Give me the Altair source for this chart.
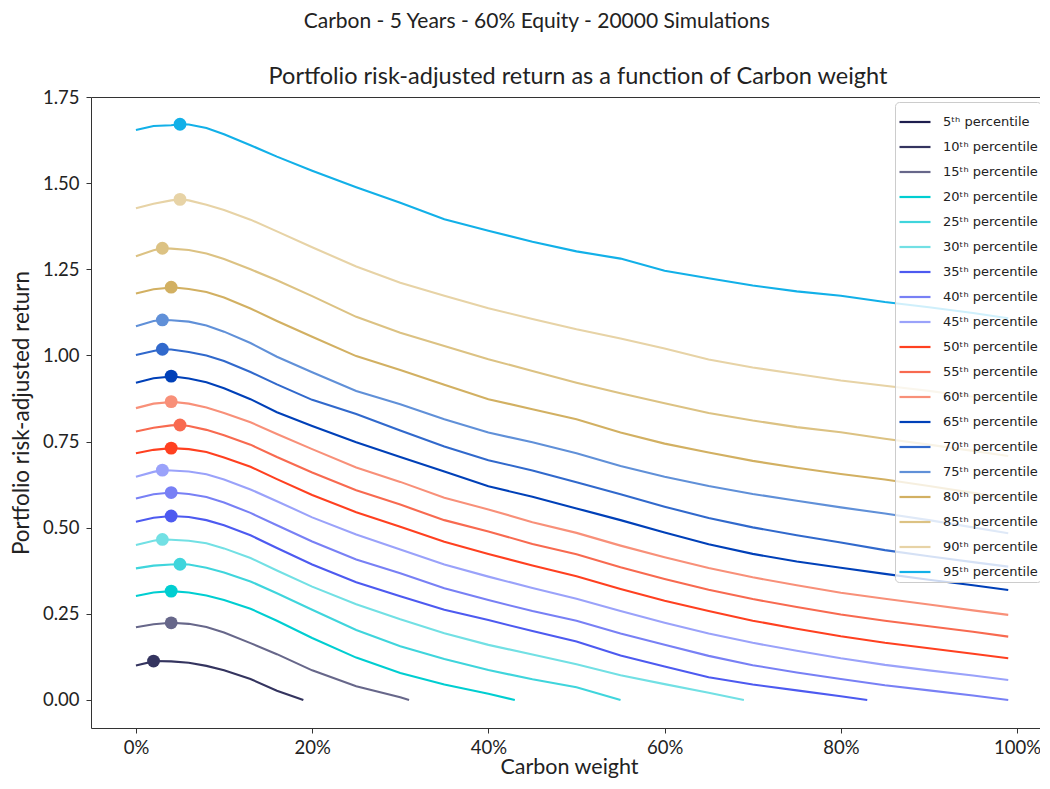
import altair as alt
import pandas as pd

# ---------------- data ----------------
X_GRID = [0, 2, 4, 6, 8, 10, 13, 16, 20, 25, 30, 35, 40, 45, 50, 55, 60, 65, 70, 75, 80, 85, 90, 95, 99]

LABELS = ["5ᵗʰ percentile", "10ᵗʰ percentile", "15ᵗʰ percentile", "20ᵗʰ percentile",
          "25ᵗʰ percentile", "30ᵗʰ percentile", "35ᵗʰ percentile", "40ᵗʰ percentile",
          "45ᵗʰ percentile", "50ᵗʰ percentile", "55ᵗʰ percentile", "60ᵗʰ percentile",
          "65ᵗʰ percentile", "70ᵗʰ percentile", "75ᵗʰ percentile", "80ᵗʰ percentile",
          "85ᵗʰ percentile", "90ᵗʰ percentile", "95ᵗʰ percentile"]

COLORS = ["#1e1e4e", "#34345f", "#67678a", "#00ced1", "#3fd5dc", "#72e0e4",
          "#4d5af0", "#7880f5", "#9aa2fa", "#ff4020", "#f86a50", "#f89079",
          "#0040b8", "#3169cc", "#6090d8", "#d2b062", "#dcc283", "#e7d3a6", "#12b0e8"]

P5 = []
P10 = [0.100, 0.112, 0.112, 0.108, 0.099, 0.086, 0.061, 0.027]
P15 = [0.211, 0.220, 0.224, 0.221, 0.212, 0.196, 0.165, 0.133, 0.086, 0.040, 0.008]
P20 = [0.302, 0.312, 0.316, 0.312, 0.303, 0.290, 0.265, 0.230, 0.180, 0.123, 0.078, 0.045, 0.018]
P25 = [0.382, 0.390, 0.393, 0.393, 0.384, 0.370, 0.344, 0.310, 0.262, 0.203, 0.156, 0.119, 0.087,
       0.060, 0.037, 0.0]
P30 = [0.450, 0.462, 0.465, 0.462, 0.455, 0.440, 0.412, 0.376, 0.329, 0.278, 0.234, 0.194, 0.160,
       0.132, 0.104, 0.072, 0.046, 0.021]
P35 = [0.517, 0.529, 0.534, 0.531, 0.522, 0.507, 0.478, 0.441, 0.393, 0.342, 0.301, 0.262, 0.232,
       0.200, 0.170, 0.129, 0.097, 0.066, 0.045, 0.028, 0.011]
P40 = [0.585, 0.597, 0.602, 0.598, 0.589, 0.573, 0.543, 0.507, 0.460, 0.408, 0.368, 0.324, 0.290,
       0.258, 0.230, 0.193, 0.160, 0.128, 0.101, 0.080, 0.061, 0.043, 0.028, 0.013, 0.0]
P45 = [0.648, 0.662, 0.666, 0.663, 0.655, 0.640, 0.611, 0.577, 0.530, 0.480, 0.437, 0.393, 0.358,
       0.325, 0.294, 0.258, 0.224, 0.193, 0.166, 0.143, 0.121, 0.102, 0.086, 0.071, 0.058]
P50 = [0.716, 0.726, 0.731, 0.728, 0.720, 0.704, 0.677, 0.641, 0.595, 0.545, 0.503, 0.459, 0.424,
       0.390, 0.359, 0.322, 0.288, 0.258, 0.230, 0.207, 0.185, 0.166, 0.150, 0.134, 0.121]
P55 = [0.779, 0.790, 0.797, 0.795, 0.784, 0.768, 0.741, 0.705, 0.660, 0.609, 0.567, 0.522, 0.489,
       0.453, 0.423, 0.385, 0.351, 0.320, 0.293, 0.270, 0.248, 0.230, 0.214, 0.198, 0.184]
P60 = [0.847, 0.860, 0.865, 0.860, 0.849, 0.833, 0.806, 0.772, 0.728, 0.675, 0.633, 0.587, 0.553,
       0.516, 0.485, 0.448, 0.414, 0.383, 0.356, 0.333, 0.311, 0.294, 0.277, 0.260, 0.247]
P65 = [0.921, 0.934, 0.939, 0.933, 0.922, 0.905, 0.873, 0.835, 0.795, 0.748, 0.705, 0.663, 0.620,
       0.590, 0.556, 0.522, 0.486, 0.452, 0.424, 0.402, 0.384, 0.366, 0.349, 0.333, 0.319]
P70 = [1.001, 1.013, 1.017, 1.010, 1.000, 0.984, 0.952, 0.916, 0.871, 0.830, 0.782, 0.736, 0.696,
       0.666, 0.632, 0.597, 0.561, 0.528, 0.501, 0.478, 0.457, 0.435, 0.417, 0.400, 0.387]
P75 = [1.085, 1.100, 1.102, 1.098, 1.087, 1.069, 1.036, 0.996, 0.951, 0.897, 0.858, 0.815, 0.776,
       0.748, 0.716, 0.679, 0.648, 0.621, 0.598, 0.578, 0.559, 0.541, 0.522, 0.501, 0.484]
P80 = [1.180, 1.192, 1.197, 1.193, 1.184, 1.168, 1.136, 1.100, 1.054, 0.998, 0.958, 0.915, 0.873,
       0.844, 0.815, 0.776, 0.744, 0.718, 0.694, 0.674, 0.656, 0.640, 0.621, 0.601, 0.584]
P85 = [1.288, 1.305, 1.310, 1.306, 1.296, 1.280, 1.250, 1.218, 1.172, 1.112, 1.066, 1.027, 0.989,
       0.955, 0.921, 0.890, 0.861, 0.833, 0.811, 0.792, 0.777, 0.758, 0.741, 0.723, 0.708]
P90 = [1.427, 1.440, 1.450, 1.450, 1.437, 1.422, 1.394, 1.360, 1.314, 1.258, 1.211, 1.173, 1.137,
       1.106, 1.076, 1.049, 1.020, 0.988, 0.965, 0.946, 0.927, 0.912, 0.897, 0.880, 0.866]
P95 = [1.654, 1.666, 1.668, 1.670, 1.660, 1.642, 1.610, 1.577, 1.536, 1.488, 1.443, 1.395, 1.362,
       1.330, 1.302, 1.281, 1.246, 1.224, 1.203, 1.186, 1.173, 1.155, 1.140, 1.123, 1.108]

# where the truncated curves reach zero (None = no extra end point)
END_X = [None, 19, 31, 43, None, 69, 83, None, None, None, None, None, None, None, None, None, None, None, None]
END_Y = [None, 0.0, 0.0, 0.0, None, 0.0, 0.0, None, None, None, None, None, None, None, None, None, None, None, None]

# optimum (maximum) of each curve
PEAK_X = [None, 2, 4, 4, 5, 3, 4, 4, 3, 4, 5, 4, 4, 3, 3, 4, 3, 5, 5]
PEAK_Y = [None, 0.113, 0.224, 0.316, 0.394, 0.466, 0.534, 0.602, 0.667, 0.731, 0.798,
          0.866, 0.940, 1.018, 1.103, 1.198, 1.311, 1.453, 1.671]

SERIES = [P5, P10, P15, P20, P25, P30, P35, P40, P45, P50, P55, P60, P65, P70, P75, P80, P85, P90, P95]

X_TICKS = [0, 20, 40, 60, 80, 100]
Y_TICKS = [0.0, 0.25, 0.5, 0.75, 1.0, 1.25, 1.5, 1.75]

# ---------------- tables ----------------
rows = []
for i, (lab, ys) in enumerate(zip(LABELS, SERIES)):
    pts = [(x, y) for x, y in zip(X_GRID, ys)]
    if END_X[i] is not None:
        pts.append((END_X[i], END_Y[i]))
    if PEAK_X[i] is not None and ys:
        pts.append((PEAK_X[i], PEAK_Y[i]))
    pts.sort(key=lambda p: p[0])
    for x, y in pts:
        rows.append({"series": lab, "idx": i, "x": x, "y": y})
lines_df = pd.DataFrame(rows)

peak_df = pd.DataFrame([
    {"series": lab, "idx": i, "x": px, "y": py, "hex": col}
    for i, (lab, px, py, col) in enumerate(zip(LABELS, PEAK_X, PEAK_Y, COLORS)) if px is not None
])

FONT = "Lato"
AXIS_COLOR = "#333333"

x_scale = alt.Scale(domain=[-5.1, 103.4], nice=False, zero=False)
y_scale = alt.Scale(domain=[-0.0813, 1.75], nice=False, zero=False)

lines = alt.Chart(lines_df).mark_line(strokeWidth=2.1, clip=True).encode(
    x=alt.X("x:Q", scale=x_scale,
            axis=alt.Axis(values=X_TICKS, labelExpr="datum.value + '%'", title="Carbon weight")),
    y=alt.Y("y:Q", scale=y_scale,
            axis=alt.Axis(values=Y_TICKS, format=".2f", title="Portfolio risk-adjusted return")),
    color=alt.Color("series:N", scale=alt.Scale(domain=LABELS, range=COLORS),
                    legend=alt.Legend(title=None, orient="none", legendX=804, legendY=5,
                                      symbolType="stroke", symbolStrokeWidth=2.2,
                                      symbolSize=961, rowPadding=1, labelOffset=11,
                                      labelFont="DejaVu Sans", labelFontSize=13,
                                      labelColor="#222222", padding=3,
                                      fillColor="rgba(255,255,255,0.8)",
                                      strokeColor="#cccccc", cornerRadius=4)),
    order=alt.Order("x:Q"),
)

# top spine drawn as a bare top axis
points = alt.Chart(peak_df).mark_circle(size=165, opacity=1).encode(
    x=alt.X("x:Q", scale=x_scale,
            axis=alt.Axis(orient="top", labels=False, ticks=False, title=None,
                          domainColor=AXIS_COLOR)),
    y=alt.Y("y:Q", scale=y_scale),
    color=alt.Color("hex:N", scale=None),
)

inner = alt.layer(lines, points).resolve_axis(x="independent").properties(
    width=956, height=631,
    title=alt.TitleParams("Portfolio risk-adjusted return as a function of Carbon weight",
                          font=FONT, fontSize=23.5, fontWeight="normal", color="#222222",
                          anchor="middle", offset=0, dx=9),
)

chart = alt.vconcat(inner).properties(
    title=alt.TitleParams("Carbon - 5 Years - 60% Equity - 20000 Simulations",
                          font=FONT, fontSize=21, fontWeight="normal", color="#222222",
                          anchor="middle", offset=32.5, dx=8),
    padding={"left": 2, "top": 3, "right": -7, "bottom": 0},
).configure_view(
    strokeOpacity=0
).configure_axis(
    grid=False, domainColor=AXIS_COLOR, tickColor=AXIS_COLOR, tickSize=5,
    labelFont=FONT, labelFontSize=18.5, labelColor="#222222", labelPadding=7,
    titleFont=FONT, titleFontSize=21.5, titleFontWeight="normal", titleColor="#222222",
)
chart = chart.configure_axisY(titlePadding=9, titleFontSize=22.5).configure_axisX(
    titlePadding=0, labelPadding=5)

chart.save("out.html", embed_options={"renderer": "svg", "actions": False})
